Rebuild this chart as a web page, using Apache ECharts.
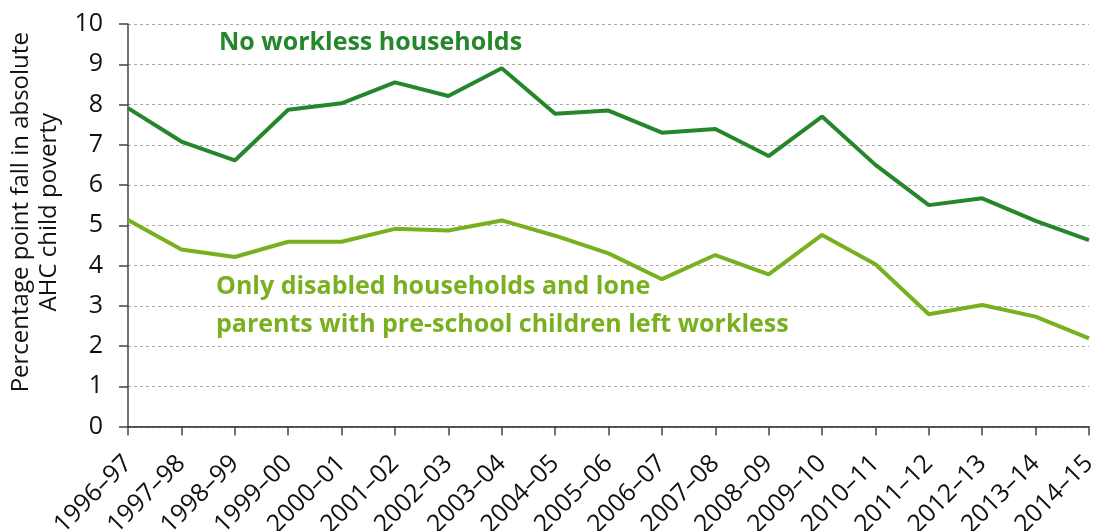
<!DOCTYPE html>
<html>
<head>
<meta charset="utf-8">
<script src="https://cdn.jsdelivr.net/npm/echarts@6/dist/echarts.min.js"></script>
<style>
  html, body { margin: 0; padding: 0; background: #fff; }
  #chart { width: 1096px; height: 531px; }
</style>
</head>
<body>
<div id="chart"></div>
<script>
const years = [
  '1996–97', '1997–98', '1998–99', '1999–00', '2000–01', '2001–02', '2002–03',
  '2003–04', '2004–05', '2005–06', '2006–07', '2007–08', '2008–09', '2009–10',
  '2010–11', '2011–12', '2012–13', '2013–14', '2014–15'
]

// percentage point fall, no workless households
const noWorkless = [
  7.91, 7.08, 6.61, 7.87, 8.03, 8.55, 8.21, 8.90, 7.77, 7.85,
  7.30, 7.39, 6.72, 7.70, 6.50, 5.50, 5.67, 5.11, 4.63
]

// only disabled households and lone parents with pre-school children left workless
const onlyDisabled = [
  5.13, 4.40, 4.21, 4.59, 4.59, 4.91, 4.87, 5.12, 4.74, 4.30,
  3.66, 4.26, 3.78, 4.76, 4.03, 2.79, 3.02, 2.73, 2.19
]

const darkGreen = '#25862b'
const lightGreen = '#79b020'
const font = '"Open Sans", "Noto Sans", sans-serif'

const chart = echarts.init(document.getElementById('chart'))

const option = {
  animation: false,
  textStyle: { fontFamily: font },
  grid: { left: 128, right: 7, top: 24, bottom: 104.5, containLabel: false, outerBoundsMode: 'none' },
  xAxis: {
    type: 'category',
    data: years,
    boundaryGap: false,
    axisLine: { lineStyle: { color: '#222', width: 1.5 } },
    axisTick: { show: true, length: 9, interval: 0, alignWithLabel: true, lineStyle: { color: '#444', width: 1.5 } },
    axisLabel: {
      interval: 0,
      rotate: 45,
      margin: 33,
      color: '#111',
      fontSize: 25,
      fontFamily: font
    },
    splitLine: { show: false }
  },
  yAxis: {
    type: 'value',
    min: 0,
    max: 10,
    interval: 1,
    name: 'Percentage point fall in absolute\nAHC child poverty',
    nameLocation: 'middle',
    nameGap: 54,
    nameTextStyle: { fontSize: 24, color: '#111', lineHeight: 28, fontFamily: font, padding: [0, 0, 0, 26] },
    axisLine: { show: true, lineStyle: { color: '#444', width: 1.5 } },
    axisTick: { show: true, length: 9, lineStyle: { color: '#444', width: 1.5 } },
    axisLabel: { color: '#111', fontSize: 25, margin: 25, fontFamily: font },
    splitLine: { lineStyle: { color: '#aaa', type: [3, 3], width: 1 } }
  },
  series: [
    {
      name: 'No workless households',
      type: 'line',
      data: noWorkless,
      symbol: 'none',
      lineStyle: { color: darkGreen, width: 4 },
      itemStyle: { color: darkGreen }
    },
    {
      name: 'Only disabled households and lone parents with pre-school children left workless',
      type: 'line',
      data: onlyDisabled,
      symbol: 'none',
      lineStyle: { color: lightGreen, width: 4 },
      itemStyle: { color: lightGreen }
    }
  ],
  graphic: [
    {
      type: 'text',
      left: 219,
      top: 30,
      style: {
        text: 'No workless households',
        fill: darkGreen,
        font: 'bold 25px "Open Sans", "Noto Sans", sans-serif'
      }
    },
    {
      type: 'text',
      left: 216,
      top: 268,
      style: {
        text: 'Only disabled households and lone\nparents with pre-school children left workless',
        fill: lightGreen,
        lineHeight: 38,
        font: 'bold 25px "Open Sans", "Noto Sans", sans-serif'
      }
    }
  ]
}

chart.setOption(option)
</script>
</body>
</html>
